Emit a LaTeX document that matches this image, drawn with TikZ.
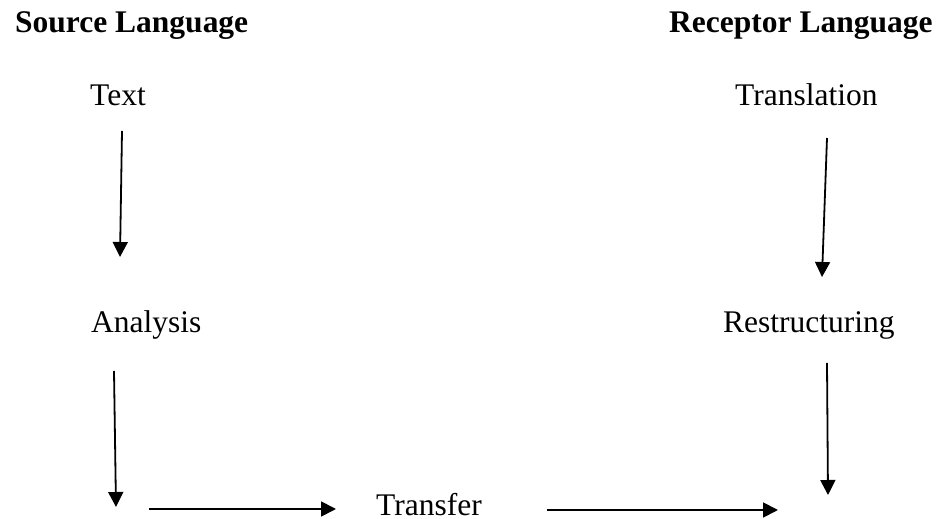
\documentclass[tikz,border=0pt]{standalone}
\usepackage{fontspec}
\setmainfont{Liberation Serif}
\usepackage{tikz}
\usetikzlibrary{arrows.meta, positioning}

\begin{document}
\begin{tikzpicture}[
    x=1pt, y=1pt,
    font=\fontsize{31.5}{36}\selectfont,
    label/.style={inner sep=0pt, anchor=base west},
    heading/.style={label, font=\fontsize{31.5}{36}\selectfont\bfseries},
    flow/.style={black, line width=1.8pt, -{Triangle[length=15pt, width=15pt]}}
]

% ---------- canvas (943 x 519) ----------
\useasboundingbox (0,0) rectangle (943,519);

% ---------- headings ----------
\node[heading] (srclang) at (15,486) {Source Language};
\node[heading] (reclang) at (669,486) {Receptor Language};

% ---------- stages ----------
\node[label] (text)     at (90,413)  {Text};
\node[label] (analysis) at (91,186)  {Analysis};
\node[label, text depth=0pt] (transfer) at (376,3) {Transfer};
\node[label] (restruct) at (723,186) {Restructuring};
\node[label] (transl)   at (735,413) {Translation};

% ---------- arrow ends ----------
\coordinate (t-top)  at (122,388);
\coordinate (t-bot)  at (120,262);
\coordinate (a-top)  at (114,148);
\coordinate (a-bot)  at (116,12);
\coordinate (h1-beg) at (149,10);
\coordinate (h1-end) at (336,10);
\coordinate (h2-beg) at (547,9);
\coordinate (h2-end) at (778,9);
\coordinate (r-top)  at (827,156);
\coordinate (r-bot)  at (828,24);
\coordinate (tr-top) at (827,381);
\coordinate (tr-bot) at (822,242);

% ---------- arrows ----------
\draw[flow] (t-top) -- (t-bot);
\draw[flow] (a-top) -- (a-bot);
\draw[flow] (h1-beg) -- (h1-end);
\draw[flow] (h2-beg) -- (h2-end);
\draw[flow] (r-top) -- (r-bot);
\draw[flow] (tr-top) -- (tr-bot);

\end{tikzpicture}
\end{document}
